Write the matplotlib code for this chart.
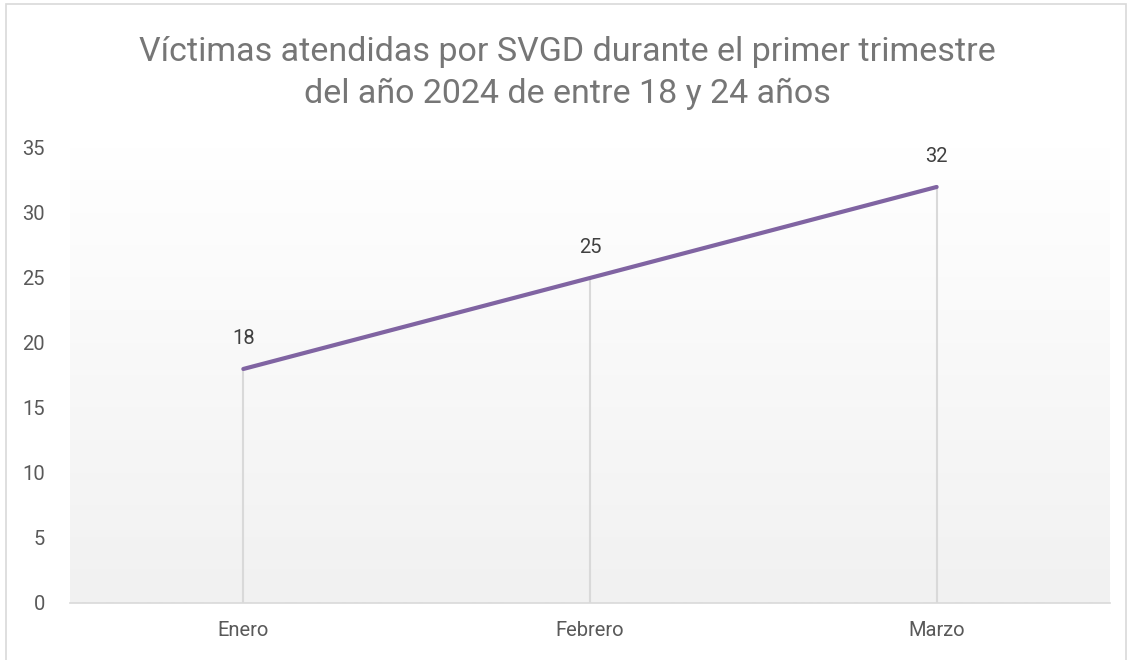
import numpy as np
import matplotlib.pyplot as plt
from matplotlib.patches import Rectangle
from matplotlib.colors import LinearSegmentedColormap

plt.rcParams['font.family'] = ['Roboto', 'DejaVu Sans']

meses = ['Enero', 'Febrero', 'Marzo']
victimas = [18, 25, 32]
yticks = [0, 5, 10, 15, 20, 25, 30, 35]

fig = plt.figure(figsize=(11.31, 6.6), dpi=100)
ax = fig.add_axes([0.0619, 0.0864, 0.9195, 0.6894])

x = np.arange(len(meses))
ax.set_xlim(-0.5, 2.5)
ax.set_ylim(0, 35)

# gradient background: white at the top, light grey at the bottom
bg = LinearSegmentedColormap.from_list('bg', ['#ffffff', '#f1f1f1'])
grad = np.linspace(0.0, 1.0, 256).reshape(-1, 1)
ax.imshow(grad, extent=(-0.5, 2.5, 0, 35), aspect='auto', cmap=bg,
          origin='upper', zorder=0)

# drop lines
ax.vlines(x, 0, victimas, color='#d9d9d9', lw=1.5, zorder=1)
ax.plot(x, victimas, color='#8064a2', lw=3, solid_capstyle='round', zorder=3)

for xi, v in zip(x, victimas):
    ax.annotate(str(v), (xi, v), xytext=(0, 15), textcoords='offset points',
                ha='center', va='bottom', fontsize=14.5, color='#404040')

for s in ['top', 'right', 'left']:
    ax.spines[s].set_visible(False)
ax.spines['bottom'].set_color('#d9d9d9')
ax.spines['bottom'].set_linewidth(1.2)

ax.set_xticks(x)
ax.set_xticklabels(meses)
ax.set_yticks(yticks)
ax.tick_params(axis='both', length=0, labelsize=14.5, labelcolor='#595959')
ax.tick_params(axis='y', pad=18)
ax.tick_params(axis='x', pad=13)

fig.text(0.502, 0.889, 'Víctimas atendidas por SVGD durante el primer trimestre\ndel año 2024 de entre 18 y 24 años',
         ha='center', va='center', fontsize=24.5, color='#767676', linespacing=1.4)

fig.patches.append(Rectangle((0.005, -0.01), 0.991, 1.004, transform=fig.transFigure,
                             fill=False, edgecolor='#d9d9d9', lw=1.2))

fig.savefig('out.png', dpi=100)
